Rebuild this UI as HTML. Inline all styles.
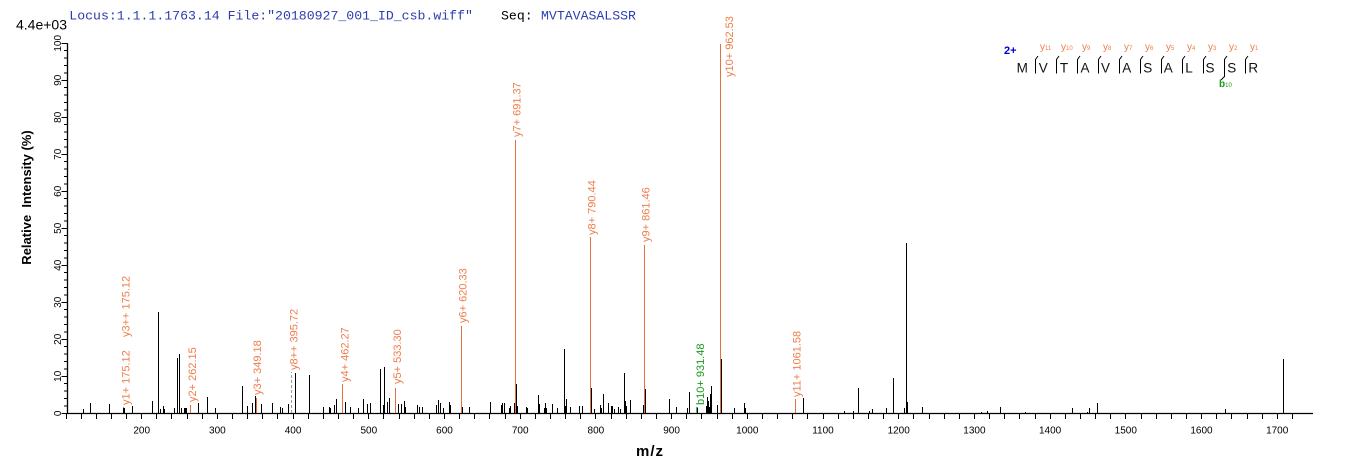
<!DOCTYPE html>
<html>
<head>
<meta charset="utf-8">
<style>
html,body{margin:0;padding:0;background:#fff;}
svg{display:block;}
.ax{font-family:"Liberation Sans",Arial,sans-serif;font-size:10px;fill:#000;}
.lab{font-family:"Liberation Sans",Arial,sans-serif;font-size:11px;fill:#EE7E4B;}
.mono{font-family:"Liberation Mono","Courier New",monospace;font-size:13.2px;}
</style>
</head>
<body>
<svg width="1362" height="473" viewBox="0 0 1362 473" xmlns="http://www.w3.org/2000/svg">
<rect width="1362" height="473" fill="#fff"/>

<!-- header -->
<text class="mono" x="69.3" y="19.3" fill="#2B3DB0" xml:space="preserve">Locus:1.1.1.1763.14 File:"20180927_001_ID_csb.wiff"</text>
<text class="mono" x="501" y="19.3" fill="#000">Seq:</text>
<text class="mono" x="541" y="19.3" fill="#2B3DB0">MVTAVASALSSR</text>

<text x="67" y="29.5" text-anchor="end" font-family="Liberation Sans, Arial, sans-serif" font-size="14" fill="#000">4.4e+03</text>

<!-- y axis title -->
<text transform="translate(31,197.5) rotate(-90)" text-anchor="middle" font-family="Liberation Sans, Arial, sans-serif" font-size="13" font-weight="bold" fill="#000" xml:space="preserve">Relative  Intensity (%)</text>

<!-- x axis title -->
<text x="650" y="456" text-anchor="middle" font-family="Liberation Sans, Arial, sans-serif" font-size="15" font-weight="bold" letter-spacing="1" fill="#000">m/z</text>

<!-- axes -->
<path d="M67.5 43.3 V414 M67 413.5 H1313" stroke="#000" stroke-width="1.3" fill="none"/>

<!-- y ticks -->
<path stroke="#000" stroke-width="1" fill="none" shape-rendering="crispEdges" d="
M61.5 413.3H67.5 M64 405.9H67.5 M64 398.5H67.5 M64 391.1H67.5 M64 383.7H67.5
M61.5 376.3H67.5 M64 368.9H67.5 M64 361.5H67.5 M64 354.1H67.5 M64 346.7H67.5
M61.5 339.3H67.5 M64 331.9H67.5 M64 324.5H67.5 M64 317.1H67.5 M64 309.7H67.5
M61.5 302.3H67.5 M64 294.9H67.5 M64 287.5H67.5 M64 280.1H67.5 M64 272.7H67.5
M61.5 265.3H67.5 M64 257.9H67.5 M64 250.5H67.5 M64 243.1H67.5 M64 235.7H67.5
M61.5 228.3H67.5 M64 220.9H67.5 M64 213.5H67.5 M64 206.1H67.5 M64 198.7H67.5
M61.5 191.3H67.5 M64 183.9H67.5 M64 176.5H67.5 M64 169.1H67.5 M64 161.7H67.5
M61.5 154.3H67.5 M64 146.9H67.5 M64 139.5H67.5 M64 132.1H67.5 M64 124.7H67.5
M61.5 117.3H67.5 M64 109.9H67.5 M64 102.5H67.5 M64 95.1H67.5 M64 87.7H67.5
M61.5 80.3H67.5 M64 72.9H67.5 M64 65.5H67.5 M64 58.1H67.5 M64 50.7H67.5
M61.5 43.3H67.5"/>

<!-- y labels -->
<g class="ax" font-size="11" text-anchor="middle">
<text transform="translate(61,413.3) rotate(-90)">0</text>
<text transform="translate(61,376.3) rotate(-90)">10</text>
<text transform="translate(61,339.3) rotate(-90)">20</text>
<text transform="translate(61,302.3) rotate(-90)">30</text>
<text transform="translate(61,265.3) rotate(-90)">40</text>
<text transform="translate(61,228.3) rotate(-90)">50</text>
<text transform="translate(61,191.3) rotate(-90)">60</text>
<text transform="translate(61,154.3) rotate(-90)">70</text>
<text transform="translate(61,117.3) rotate(-90)">80</text>
<text transform="translate(61,80.3) rotate(-90)">90</text>
<text transform="translate(61,43.3) rotate(-90)">100</text>
</g>

<!-- x ticks -->
<path stroke="#000" stroke-width="1" fill="none" d="
M66.5 413V419 M81.5 413V419 M96.5 413V419 M111.5 413V419 M126.5 413V419 M141.5 413V419 M156.5 413V419 M171.5 413V419 M187.5 413V419 M202.5 413V419
M217.5 413V419 M232.5 413V419 M247.5 413V419 M262.5 413V419 M277.5 413V419 M293.5 413V419 M308.5 413V419 M323.5 413V419 M338.5 413V419 M353.5 413V419
M368.5 413V419 M383.5 413V419 M399.5 413V419 M414.5 413V419 M429.5 413V419 M444.5 413V419 M459.5 413V419 M474.5 413V419 M489.5 413V419 M505.5 413V419
M520.5 413V419 M535.5 413V419 M550.5 413V419 M565.5 413V419 M580.5 413V419 M595.5 413V419 M611.5 413V419 M626.5 413V419 M641.5 413V419 M656.5 413V419
M671.5 413V419 M686.5 413V419 M701.5 413V419 M717.5 413V419 M732.5 413V419 M747.5 413V419 M762.5 413V419 M777.5 413V419 M792.5 413V419 M807.5 413V419
M823.5 413V419 M838.5 413V419 M853.5 413V419 M868.5 413V419 M883.5 413V419 M898.5 413V419 M913.5 413V419 M929.5 413V419 M944.5 413V419 M959.5 413V419
M974.5 413V419 M989.5 413V419 M1004.5 413V419 M1019.5 413V419 M1035.5 413V419 M1050.5 413V419 M1065.5 413V419 M1080.5 413V419 M1095.5 413V419 M1110.5 413V419
M1125.5 413V419 M1141.5 413V419 M1156.5 413V419 M1171.5 413V419 M1186.5 413V419 M1201.5 413V419 M1216.5 413V419 M1231.5 413V419 M1247.5 413V419 M1262.5 413V419
M1277.5 413V419 M1292.5 413V419"/>

<!-- x labels -->
<g class="ax" text-anchor="middle">
<text x="141.7" y="433.3">200</text>
<text x="217.4" y="433.3">300</text>
<text x="293.1" y="433.3">400</text>
<text x="368.8" y="433.3">500</text>
<text x="444.5" y="433.3">600</text>
<text x="520.2" y="433.3">700</text>
<text x="595.9" y="433.3">800</text>
<text x="671.6" y="433.3">900</text>
<text x="747.3" y="433.3">1000</text>
<text x="823" y="433.3">1100</text>
<text x="898.7" y="433.3">1200</text>
<text x="974.4" y="433.3">1300</text>
<text x="1050.1" y="433.3">1400</text>
<text x="1125.8" y="433.3">1500</text>
<text x="1201.5" y="433.3">1600</text>
<text x="1277.2" y="433.3">1700</text>
</g>

<!-- annotated orange peaks -->
<path stroke="#E2733F" stroke-width="1" fill="none" d="
M123.5 413V407 M190.5 413V405 M256.5 413V398 M342.5 413V384 M395.5 413V388
M461.5 413V326 M515.5 413V140 M590.5 413V237 M644.5 413V245 M720.5 413V44 M795.5 413V399"/>
<path stroke="#999" stroke-width="1" stroke-dasharray="3,2" fill="none" d="M291.5 413V372"/>
<path stroke="#1A9A1A" stroke-width="1.5" fill="none" d="M697 413V407"/>

<!-- black peaks -->
<path stroke="#000" stroke-width="1" fill="none" d="
M83.5 413V409 M90.5 413V403 M109.5 413V404 M123.5 413V408 M124.5 413V408 M132.5 413V406 M152.5 413V401 M158.5 413V312
M160.5 413V409 M163.5 413V406 M164.5 413V409 M174.5 413V408 M177.5 413V358 M179.5 413V354 M181.5 413V408
M184.5 413V408 M185.5 413V408 M186.5 413V408 M198.5 413V403 M207.5 413V397 M215.5 413V408 M242.5 413V386
M247.5 413V406 M252.5 413V403 M255.5 413V396 M261.5 413V404 M272.5 413V403 M280.5 413V407 M282.5 413V408
M288.5 413V404 M295.5 413V373 M309.5 413V375 M323.5 413V407 M329.5 413V407 M330.5 413V408 M334.5 413V405
M336.5 413V399 M345.5 413V402 M350.5 413V407 M358.5 413V408 M363.5 413V399 M367.5 413V404 M370.5 413V403
M380.5 413V369 M383.5 413V405 M384.5 413V367 M387.5 413V402 M389.5 413V398 M398.5 413V404 M401.5 413V404
M404.5 413V401 M405.5 413V407 M417.5 413V405 M419.5 413V407 M422.5 413V407 M436.5 413V405 M438.5 413V400
M440.5 413V403 M443.5 413V408 M449.5 413V402 M450.5 413V405 M462.5 413V407 M469.5 413V407 M490.5 413V402
M501.5 413V405 M502.5 413V403 M504.5 413V403 M509.5 413V408 M510.5 413V406 M514.5 413V403 M516.5 413V384
M517.5 413V406 M526.5 413V407 M527.5 413V408 M538.5 413V395 M539.5 413V404 M544.5 413V408 M545.5 413V403
M546.5 413V408 M552.5 413V404 M557.5 413V408 M564.5 413V349 M565.5 413V406 M566.5 413V399 M570.5 413V407
M579.5 413V406 M582.5 413V406 M591.5 413V388 M594.5 413V409 M600.5 413V405 M601.5 413V408 M603.5 413V394
M608.5 413V403 M611.5 413V406 M612.5 413V406 M614.5 413V409 M618.5 413V407 M620.5 413V409 M624.5 413V373
M625.5 413V401 M626.5 413V406 M630.5 413V400 M643.5 413V405 M645.5 413V389 M669.5 413V399 M676.5 413V407
M687.5 413V408 M689.5 413V392 M697.5 413V408 M706.5 413V406 M707.5 413V397 M708.5 413V401 M709.5 413V407
M710.5 413V394 M711.5 413V386 M717.5 413V405 M721.5 413V359 M734.5 413V408 M744.5 413V403 M745.5 413V408
M803.5 413V398 M844.5 413V411 M853.5 413V411 M858.5 413V388 M869.5 413V411 M872.5 413V409 M886.5 413V408
M893.5 413V378 M904.5 413V408 M906.5 413V243 M907.5 413V402 M922.5 413V407 M981.5 413V412 M987.5 413V411
M1000.5 413V407 M1025.5 413V412 M1072.5 413V408 M1087.5 413V412 M1089.5 413V408 M1097.5 413V403
M1225.5 413V409 M1283.5 413V359"/>

<!-- peak labels -->
<g class="lab">
<text transform="translate(129.7,405) rotate(-90)">y1+ 175.12</text>
<text transform="translate(129.7,337) rotate(-90)">y3++ 175.12</text>
<text transform="translate(196,402) rotate(-90)">y2+ 262.15</text>
<text transform="translate(261,395) rotate(-90)">y3+ 349.18</text>
<text transform="translate(297.3,370) rotate(-90)">y8++ 395.72</text>
<text transform="translate(348.3,382) rotate(-90)">y4+ 462.27</text>
<text transform="translate(401,384) rotate(-90)">y5+ 533.30</text>
<text transform="translate(466.3,323) rotate(-90)">y6+ 620.33</text>
<text transform="translate(520.7,137) rotate(-90)">y7+ 691.37</text>
<text transform="translate(595.7,235) rotate(-90)">y8+ 790.44</text>
<text transform="translate(649.7,242) rotate(-90)">y9+ 861.46</text>
<text transform="translate(733,77) rotate(-90)">y10+ 962.53</text>
<text transform="translate(800.7,397) rotate(-90)">y11+ 1061.58</text>
<text transform="translate(704,405) rotate(-90)" fill="#1A9A1A">b10+ 931.48</text>
</g>

<!-- sequence annotation -->
<text x="1004" y="54" font-family="Liberation Sans, Arial, sans-serif" font-size="11" font-weight="bold" fill="#0000CC">2+</text>
<g font-family="Liberation Sans, Arial, sans-serif" font-size="13.5" fill="#111" text-anchor="middle">
<text x="1022.3" y="72.3">M</text>
<text x="1043.3" y="72.3">V</text>
<text x="1064" y="72.3">T</text>
<text x="1085" y="72.3">A</text>
<text x="1105.5" y="72.3">V</text>
<text x="1126.7" y="72.3">A</text>
<text x="1147.7" y="72.3">S</text>
<text x="1168.3" y="72.3">A</text>
<text x="1189" y="72.3">L</text>
<text x="1210" y="72.3">S</text>
<text x="1231.7" y="72.3">S</text>
<text x="1253.3" y="72.3">R</text>
</g>
<path stroke="#000" stroke-width="1" fill="none" d="
M1038 56L1035.5 59.5V73.5
M1059 56L1056.5 59.5V73.5
M1080 56L1077.5 59.5V73.5
M1101 56L1098.5 59.5V73.5
M1122 56L1119.5 59.5V73.5
M1143 56L1140.5 59.5V73.5
M1164 56L1161.5 59.5V73.5
M1185 56L1182.5 59.5V73.5
M1206 56L1203.5 59.5V73.5
M1227 56L1224.5 59.5V76.5L1221 80
M1248 56L1245.5 59.5V73.5"/>
<g font-family="Liberation Sans, Arial, sans-serif" fill="#EE7E4B">
<text x="1040" y="50" font-size="10">y<tspan font-size="6">11</tspan></text>
<text x="1061" y="50" font-size="10">y<tspan font-size="6">10</tspan></text>
<text x="1082" y="50" font-size="10">y<tspan font-size="6">9</tspan></text>
<text x="1103" y="50" font-size="10">y<tspan font-size="6">8</tspan></text>
<text x="1124" y="50" font-size="10">y<tspan font-size="6">7</tspan></text>
<text x="1145" y="50" font-size="10">y<tspan font-size="6">6</tspan></text>
<text x="1166" y="50" font-size="10">y<tspan font-size="6">5</tspan></text>
<text x="1187" y="50" font-size="10">y<tspan font-size="6">4</tspan></text>
<text x="1208" y="50" font-size="10">y<tspan font-size="6">3</tspan></text>
<text x="1229" y="50" font-size="10">y<tspan font-size="6">2</tspan></text>
<text x="1250" y="50" font-size="10">y<tspan font-size="6">1</tspan></text>
</g>
<text x="1219" y="87" font-family="Liberation Sans, Arial, sans-serif" font-size="10" font-weight="bold" fill="#1A9A1A">b<tspan font-size="6" font-weight="normal">10</tspan></text>
</svg>
</body>
</html>
